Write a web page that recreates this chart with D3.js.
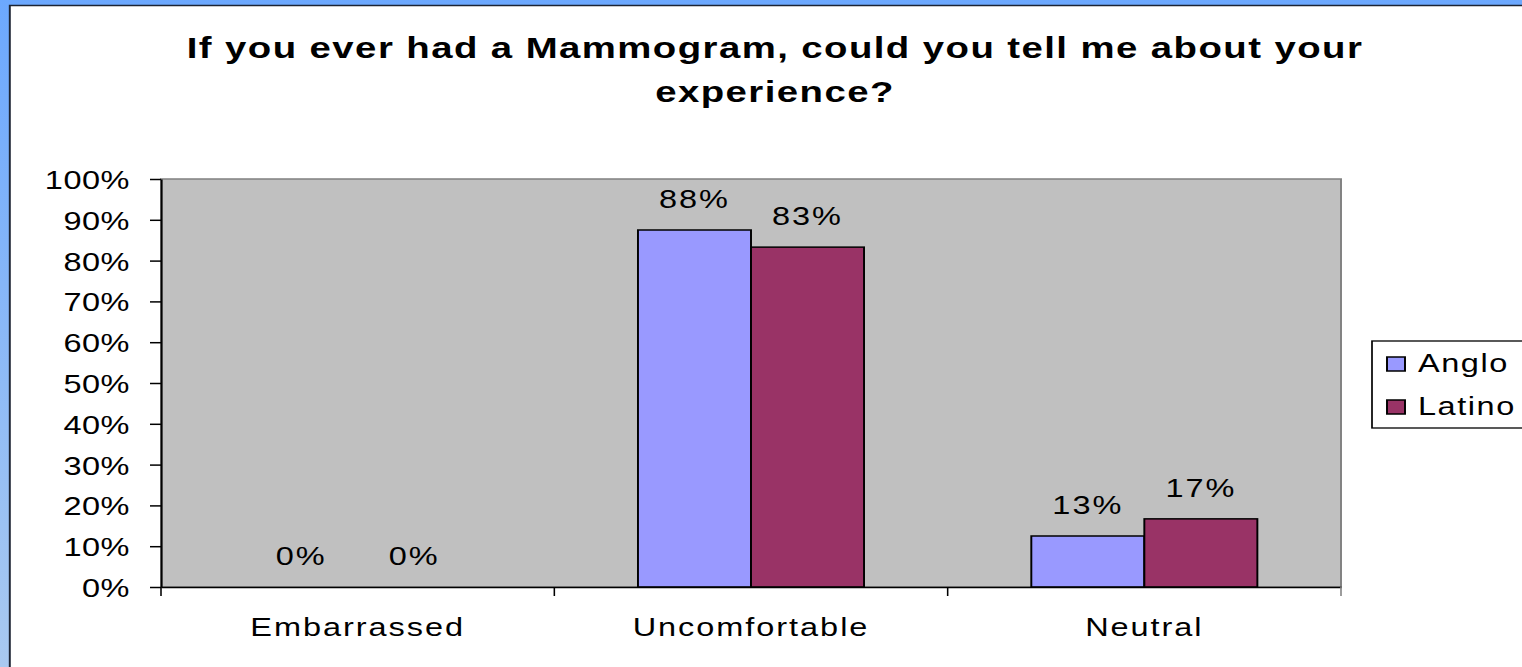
<!DOCTYPE html>
<html>
<head>
<meta charset="utf-8">
<script src="https://cdn.jsdelivr.net/npm/d3@7"></script>
<style>
  html, body { margin: 0; padding: 0; overflow: hidden; background: #6ca8fe; }
  svg { display: block; }
</style>
</head>
<body>
<svg id="chart"></svg>
<script>
// data
const categories = ["Embarrassed", "Uncomfortable", "Neutral"];
const seriesNames = ["Anglo", "Latino"];
const anglo = [0, 0.875, 0.125];
const latino = [0, 0.833, 0.167];
const yTicks = [0, 0.1, 0.2, 0.3, 0.4, 0.5, 0.6, 0.7, 0.8, 0.9, 1];
const titleLines = ["If you ever had a Mammogram, could you tell me about your", "experience?"];
const colors = ["#9999ff", "#993366"];

// the original picture is stretched sideways, so draw in a narrower box and stretch it
const W = 1522, H = 667, sx = 1.3;
const vbW = W / sx;
const font = "Liberation Sans, Arial, sans-serif";

const svg = d3.select("#chart")
  .attr("width", W)
  .attr("height", H)
  .attr("viewBox", "0 0 " + vbW + " " + H)
  .attr("preserveAspectRatio", "none");

const defs = svg.append("defs");
const grad = defs.append("linearGradient")
  .attr("id", "bgGrad").attr("x1", 0).attr("y1", 0).attr("x2", 0).attr("y2", 1);
grad.append("stop").attr("offset", "0%").attr("stop-color", "#6ca8fe");
grad.append("stop").attr("offset", "100%").attr("stop-color", "#a9c9f0");

svg.append("rect")
  .attr("width", vbW).attr("height", H)
  .attr("fill", "url(#bgGrad)");

// white chart area
svg.append("rect")
  .attr("x", 9.8 / sx).attr("y", 5.5)
  .attr("width", vbW).attr("height", H)
  .attr("fill", "#fff")
  .attr("stroke", "#1c2433")
  .attr("stroke-width", 1.5);

// title
svg.append("g").selectAll("text")
  .data(titleLines)
  .enter().append("text")
  .attr("x", 775 / sx)
  .attr("y", (d, i) => 58 + i * 44)
  .attr("text-anchor", "middle")
  .style("font-family", font)
  .style("font-weight", "bold")
  .style("font-size", "29.5px")
  .style("letter-spacing", "1.1px")
  .attr("fill", "#000")
  .text(d => d);

const margin = {top: 179, left: 161 / sx, right: vbW - 1341 / sx, bottom: H - 587};
const width = vbW - margin.left - margin.right;
const height = H - margin.top - margin.bottom;

const g = svg.append("g")
  .attr("transform", "translate(" + margin.left + "," + margin.top + ")");

const x0 = d3.scaleBand()
  .domain(categories)
  .range([0, width])
  .padding(0);

const x1 = d3.scaleBand()
  .domain(seriesNames)
  .range([0, x0.bandwidth()])
  .paddingInner(0)
  .paddingOuter(0.74);

const y = d3.scaleLinear()
  .domain([0, 1])
  .range([height, 0]);

// plot background
g.append("rect")
  .attr("width", width)
  .attr("height", height)
  .attr("fill", "#c0c0c0")
  .attr("stroke", "#808080")
  .attr("stroke-width", 1.5);

const rows = categories.map((c, i) => ({cat: c, values: [anglo[i], latino[i]]}));

const groups = g.selectAll(".grp")
  .data(rows)
  .enter().append("g")
  .attr("class", "grp")
  .attr("transform", d => "translate(" + x0(d.cat) + ",0)");

groups.selectAll("rect")
  .data(d => d.values.map((v, j) => ({name: seriesNames[j], v: v, j: j})))
  .enter().append("rect")
  .filter(d => d.v > 0)
  .attr("x", d => x1(d.name))
  .attr("y", d => y(d.v))
  .attr("width", x1.bandwidth())
  .attr("height", d => height - y(d.v))
  .attr("fill", d => colors[d.j])
  .attr("stroke", "#000")
  .attr("stroke-width", 1.5);

groups.selectAll("text")
  .data(d => d.values.map((v, j) => ({name: seriesNames[j], v: v})))
  .enter().append("text")
  .attr("x", d => x1(d.name) + x1.bandwidth() / 2)
  .attr("y", d => y(d.v) - 22)
  .attr("text-anchor", "middle")
  .style("font-family", font)
  .style("font-size", "25px")
  .style("letter-spacing", "1.5px")
  .attr("fill", "#000")
  .text(d => Math.round(d.v * 100) + "%");

// y axis
const yAxis = d3.axisLeft(y)
  .tickValues(yTicks)
  .tickFormat(d3.format(".0%"))
  .tickSize(11 / sx)
  .tickSizeOuter(0)
  .tickPadding(20 / sx);

const yg = g.append("g").call(yAxis);
yg.selectAll("text")
  .style("font-family", font)
  .style("font-size", "25px")
  .style("letter-spacing", "0.4px")
  .attr("fill", "#000")
  .attr("dy", "0.38em");
yg.selectAll("line").attr("stroke", "#000").attr("stroke-width", 1.5);
yg.select(".domain").attr("stroke", "#000").attr("stroke-width", 1.5);

// x axis labels
const xAxis = d3.axisBottom(x0)
  .tickSize(0)
  .tickSizeOuter(0)
  .tickPadding(31);

const xg = g.append("g")
  .attr("transform", "translate(0," + height + ")")
  .call(xAxis);
xg.selectAll("text")
  .style("font-family", font)
  .style("font-size", "25px")
  .style("letter-spacing", "1.5px")
  .attr("fill", "#000");
xg.select(".domain").attr("stroke", "#000").attr("stroke-width", 1.5);

// tick marks sit on the category boundaries
const bounds = categories.map(c => x0(c)).concat([x0.range()[1]]);
xg.selectAll(".bnd")
  .data(bounds)
  .enter().append("line")
  .attr("class", "bnd")
  .attr("x1", d => d).attr("x2", d => d)
  .attr("y1", 0).attr("y2", 9)
  .attr("stroke", (d, i) => i === bounds.length - 1 ? "#808080" : "#000")
  .attr("stroke-width", 1.2);

// legend
const legend = svg.append("g");
legend.append("rect")
  .attr("x", 1372 / sx).attr("y", 341)
  .attr("width", 200).attr("height", 87)
  .attr("fill", "#fff")
  .attr("stroke", "#000")
  .attr("stroke-width", 1.3);

const items = legend.selectAll(".item")
  .data(seriesNames)
  .enter().append("g")
  .attr("class", "item")
  .attr("transform", (d, i) => "translate(0," + (i * 43) + ")");

items.append("rect")
  .attr("x", 1387 / sx).attr("y", 357)
  .attr("width", 18 / sx).attr("height", 14)
  .attr("fill", (d, i) => colors[i])
  .attr("stroke", "#000")
  .attr("stroke-width", 1.5);

items.append("text")
  .attr("x", 1418 / sx).attr("y", 372)
  .style("font-family", font)
  .style("font-size", "25px")
  .style("letter-spacing", "1.2px")
  .attr("fill", "#000")
  .text(d => d);
</script>
</body>
</html>
